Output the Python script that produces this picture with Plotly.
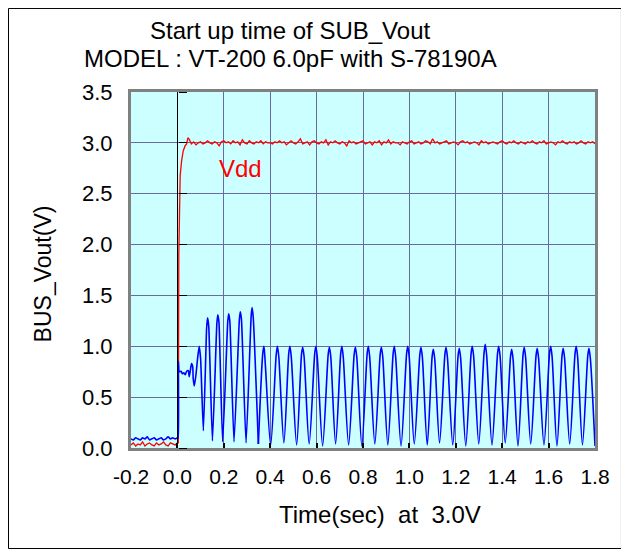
import numpy as np
import plotly.graph_objects as go

# ---------------- data ----------------
x_ticks = [-0.2, 0.0, 0.2, 0.4, 0.6, 0.8, 1.0, 1.2, 1.4, 1.6, 1.8]
x_ticktext = ["-0.2", "0.0", "0.2", "0.4", "0.6", "0.8", "1.0", "1.2", "1.4", "1.6", "1.8"]
y_ticks = [0.0, 0.5, 1.0, 1.5, 2.0, 2.5, 3.0, 3.5]
y_ticktext = ["0.0", "0.5", "1.0", "1.5", "2.0", "2.5", "3.0", "3.5"]

# pre-start samples, t = -0.20 ... 0.00 step 0.01
pre_t = [-0.20, -0.19, -0.18, -0.17, -0.16, -0.15, -0.14, -0.13, -0.12, -0.11, -0.10,
         -0.09, -0.08, -0.07, -0.06, -0.05, -0.04, -0.03, -0.02, -0.01, 0.00]
vdd_pre = [0.03, 0.05, 0.02, 0.04, 0.03, 0.06, 0.02, 0.04, 0.05, 0.03, 0.02,
           0.05, 0.03, 0.04, 0.06, 0.03, 0.02, 0.05, 0.04, 0.03, 0.05]
bus_pre = [0.09, 0.08, 0.10, 0.09, 0.08, 0.10, 0.09, 0.11, 0.08, 0.09, 0.10,
           0.08, 0.09, 0.10, 0.08, 0.09, 0.11, 0.09, 0.10, 0.09, 0.10]

# Vdd rise
vdd_rise_t = [0.004, 0.006, 0.008, 0.012, 0.018, 0.025, 0.033, 0.040, 0.045]
vdd_rise_v = [0.05, 1.90, 2.45, 2.68, 2.82, 2.92, 2.97, 2.99, 3.05]

# Vdd steady, t = 0.05 ... 1.80 step 0.01
vdd_steady = [
    3.04, 2.99, 3.01, 2.98, 3.00, 3.01, 2.99, 3.00, 3.02, 3.00,
    2.99, 3.01, 3.00, 2.97, 3.01, 3.02, 3.00, 3.01, 2.99, 3.02,
    3.00, 3.01, 2.98, 3.03, 3.00, 2.99, 3.02, 3.00, 2.99, 3.01,
    3.00, 3.02, 2.99, 3.01, 3.00, 3.00, 2.99, 3.01, 3.00, 3.02,
    3.00, 3.01, 2.98, 3.00, 3.02, 3.00, 2.99, 3.01, 3.04, 2.99,
    3.00, 3.01, 2.98, 3.01, 3.02, 3.00, 2.99, 3.01, 3.00, 3.03,
    2.98, 3.01, 3.00, 3.02, 3.00, 2.99, 3.01, 3.00, 2.97, 3.02,
    3.00, 3.01, 2.99, 3.00, 3.01, 3.02, 2.99, 3.00, 3.01, 2.98,
    3.01, 3.00, 3.02, 2.98, 3.01, 3.00, 3.03, 2.99, 3.01, 3.00,
    3.00, 2.98, 3.01, 3.00, 2.99, 3.01, 3.02, 2.99, 3.00, 3.01,
    2.99, 3.00, 3.02, 3.01, 2.99, 3.04, 3.00, 3.01, 2.99, 3.00,
    3.01, 3.02, 2.99, 3.00, 3.01, 3.00, 2.98, 3.01, 3.02, 3.00,
    3.01, 2.99, 3.00, 3.01, 3.00, 2.98, 3.02, 3.00, 3.01, 2.99,
    3.00, 3.01, 3.00, 2.99, 3.01, 3.02, 3.00, 2.99, 3.01, 3.00,
    3.02, 3.00, 2.99, 3.01, 3.00, 2.99, 3.01, 3.00, 3.02, 3.00,
    2.99, 3.01, 3.00, 3.02, 2.99, 3.00, 3.01, 3.00, 2.98, 3.01,
    3.00, 3.02, 3.00, 2.99, 3.01, 3.00, 3.01, 2.99, 3.00, 3.02,
    3.00, 2.99, 3.01, 3.00, 3.01, 2.99,
]

# BUS_Vout start-up (jump and early ringing)
bus_start_t = [0.003, 0.004, 0.008, 0.016, 0.021, 0.028, 0.034, 0.040, 0.047, 0.051,
               0.057, 0.061, 0.066, 0.068, 0.073, 0.080, 0.087, 0.094, 0.100, 0.112,
               0.126, 0.130, 0.135, 0.151, 0.170, 0.174, 0.179, 0.195,
               0.217, 0.221, 0.226, 0.244, 0.267, 0.271, 0.276, 0.296,
               0.318, 0.322, 0.327, 0.349]
bus_start_v = [0.10, 0.85, 0.75, 0.755, 0.73, 0.74, 0.72, 0.755, 0.76, 0.70,
               0.78, 0.83, 0.80, 0.685, 0.61, 0.72, 0.88, 1.00, 0.88, 0.17,
               1.18, 1.28, 1.20, 0.07, 1.22, 1.31, 1.24, 0.06,
               1.24, 1.32, 1.25, 0.06, 1.26, 1.34, 1.27, 0.05,
               1.30, 1.38, 1.28, 0.04]

# BUS_Vout steady oscillation: peaks, points just before / after each peak, troughs
osc_peak_t = [0.373, 0.431, 0.485, 0.540, 0.597, 0.655, 0.709, 0.767, 0.823, 0.879,
              0.935, 0.993, 1.050, 1.103, 1.158, 1.215, 1.271, 1.327, 1.385, 1.441,
              1.495, 1.551, 1.609, 1.663, 1.719, 1.774]
osc_peak_v = [1.00, 1.00, 1.00, 0.99, 1.00, 0.99, 1.00, 0.99, 1.00, 0.99,
              1.00, 1.00, 0.99, 0.97, 0.99, 0.98, 1.00, 1.02, 1.00, 0.97,
              0.99, 0.98, 1.00, 0.98, 1.00, 0.98]
osc_pre_t = [0.368, 0.426, 0.480, 0.535, 0.592, 0.650, 0.704, 0.762, 0.818, 0.874,
             0.930, 0.988, 1.045, 1.098, 1.153, 1.210, 1.266, 1.322, 1.380, 1.436,
             1.490, 1.546, 1.604, 1.658, 1.714, 1.769]
osc_pre_v = [0.93, 0.92, 0.93, 0.92, 0.93, 0.92, 0.93, 0.92, 0.93, 0.92,
             0.93, 0.93, 0.92, 0.90, 0.92, 0.91, 0.93, 0.94, 0.93, 0.90,
             0.92, 0.91, 0.93, 0.91, 0.93, 0.91]
osc_post_t = [0.379, 0.437, 0.491, 0.546, 0.603, 0.661, 0.715, 0.773, 0.829, 0.885,
              0.941, 0.999, 1.056, 1.109, 1.164, 1.221, 1.277, 1.333, 1.391, 1.447,
              1.501, 1.557, 1.615, 1.669, 1.725, 1.780]
osc_post_v = [0.82, 0.90, 0.89, 0.90, 0.89, 0.90, 0.89, 0.90, 0.89, 0.90,
              0.89, 0.90, 0.89, 0.88, 0.89, 0.88, 0.90, 0.91, 0.90, 0.87,
              0.89, 0.88, 0.90, 0.88, 0.90, 0.88]
osc_trough_t = [0.402, 0.459, 0.514, 0.568, 0.626, 0.682, 0.738, 0.795, 0.851, 0.907,
                0.964, 1.021, 1.077, 1.130, 1.187, 1.243, 1.299, 1.356, 1.413, 1.468,
                1.523, 1.580, 1.636, 1.691, 1.746, 1.800]
osc_trough_v = [0.03, 0.05, 0.03, 0.04, 0.02, 0.04, 0.03, 0.02, 0.04, 0.03,
                0.02, 0.04, 0.03, 0.05, 0.03, 0.02, 0.04, 0.03, 0.05, 0.02,
                0.04, 0.03, 0.02, 0.04, 0.03, 0.02]

# ---------------- assemble ----------------
vdd_steady_t = list(np.round(np.arange(len(vdd_steady)) * 0.01 + 0.05, 3))
vdd_t = pre_t + vdd_rise_t + vdd_steady_t
vdd_v = vdd_pre + vdd_rise_v + vdd_steady

bus1_t = pre_t + bus_start_t
bus1_v = bus_pre + bus_start_v

osc_pts = sorted(list(zip(osc_peak_t, osc_peak_v)) + list(zip(osc_pre_t, osc_pre_v))
                 + list(zip(osc_post_t, osc_post_v)) + list(zip(osc_trough_t, osc_trough_v)))
bus2_t = [bus_start_t[-1]] + [p[0] for p in osc_pts]
bus2_v = [bus_start_v[-1]] + [p[1] for p in osc_pts]

RED = "#ff0000"
BLUE = "#0000ff"
GRID = "#6a6a9e"
FONT = "Liberation Sans, Arial, sans-serif"

fig = go.Figure()
fig.add_trace(go.Scatter(x=vdd_t, y=vdd_v, mode="lines",
                         line=dict(color=RED, width=1.3), name="Vdd"))
fig.add_trace(go.Scatter(x=bus1_t, y=bus1_v, mode="lines",
                         line=dict(color=BLUE, width=1.6, shape="spline", smoothing=0.5),
                         name="BUS_Vout"))
fig.add_trace(go.Scatter(x=bus2_t, y=bus2_v, mode="lines",
                         line=dict(color=BLUE, width=1.6, shape="spline", smoothing=0.8),
                         name="BUS_Vout", showlegend=False))
# helper (invisible) trace so the inner axis at t=0 is drawn
fig.add_trace(go.Scatter(x=[0], y=[0], yaxis="y2", mode="lines", opacity=0,
                         showlegend=False, hoverinfo="skip"))

fig.update_layout(
    width=621, height=547,
    margin=dict(l=123, r=34, t=84, b=107),
    paper_bgcolor="white",
    plot_bgcolor="#ccffff",
    showlegend=False,
    font=dict(family=FONT, color="black", size=21),
    xaxis=dict(
        range=[-0.2, 1.8], tickvals=x_ticks, ticktext=x_ticktext,
        showgrid=True, gridcolor=GRID, gridwidth=1, zeroline=False,
        showline=True, linecolor="#808080", linewidth=3, mirror=True,
        ticks="inside", ticklen=5, tickcolor="black", tickwidth=1.5,
        ticklabelstandoff=8,
        tickfont=dict(size=21, family=FONT, color="black"),
    ),
    yaxis=dict(
        range=[0, 3.5], tickvals=y_ticks, ticktext=y_ticktext,
        showgrid=True, gridcolor=GRID, gridwidth=1, zeroline=False,
        showline=True, linecolor="#808080", linewidth=3, mirror=True,
        ticks="", ticklabelstandoff=11,
        tickfont=dict(size=22, family=FONT, color="black"),
    ),
    yaxis2=dict(
        overlaying="y", anchor="free", position=0.1, side="right",
        range=[0, 3.5], tickvals=y_ticks, showticklabels=False,
        showgrid=False, zeroline=False, showline=True, linecolor="black", linewidth=1.2,
        ticks="outside", ticklen=8, tickcolor="black", tickwidth=1.2,
    ),
    annotations=[
        dict(text="Start up time of SUB_Vout", xref="paper", yref="paper",
             x=0.3427, y=1.174, xanchor="center", yanchor="middle", showarrow=False,
             font=dict(size=24, family=FONT, color="black")),
        dict(text="MODEL : VT-200 6.0pF with S-78190A", xref="paper", yref="paper",
             x=0.3427, y=1.0955, xanchor="center", yanchor="middle", showarrow=False,
             font=dict(size=24, family=FONT, color="black")),
        dict(text="Time(sec) \u00a0at \u00a03.0V", xref="paper", yref="paper",
             x=0.537, y=-0.188, xanchor="center", yanchor="middle", showarrow=False,
             font=dict(size=24, family=FONT, color="black")),
        dict(text="BUS_Vout(V)", xref="paper", yref="paper", textangle=-90,
             x=-0.19, y=0.49, xanchor="center", yanchor="middle", showarrow=False,
             font=dict(size=23, family=FONT, color="black")),
        dict(text="Vdd", xref="x", yref="y", x=0.27, y=2.75,
             xanchor="center", yanchor="middle", showarrow=False,
             font=dict(size=24, family=FONT, color=RED)),
    ],
    shapes=[
        dict(type="rect", xref="paper", yref="paper",
             x0=-0.264, x1=1.057, y0=-0.2823, y1=1.2346,
             line=dict(color="black", width=1), fillcolor="rgba(0,0,0,0)", layer="below"),
    ],
)

fig.write_html("out.html")
